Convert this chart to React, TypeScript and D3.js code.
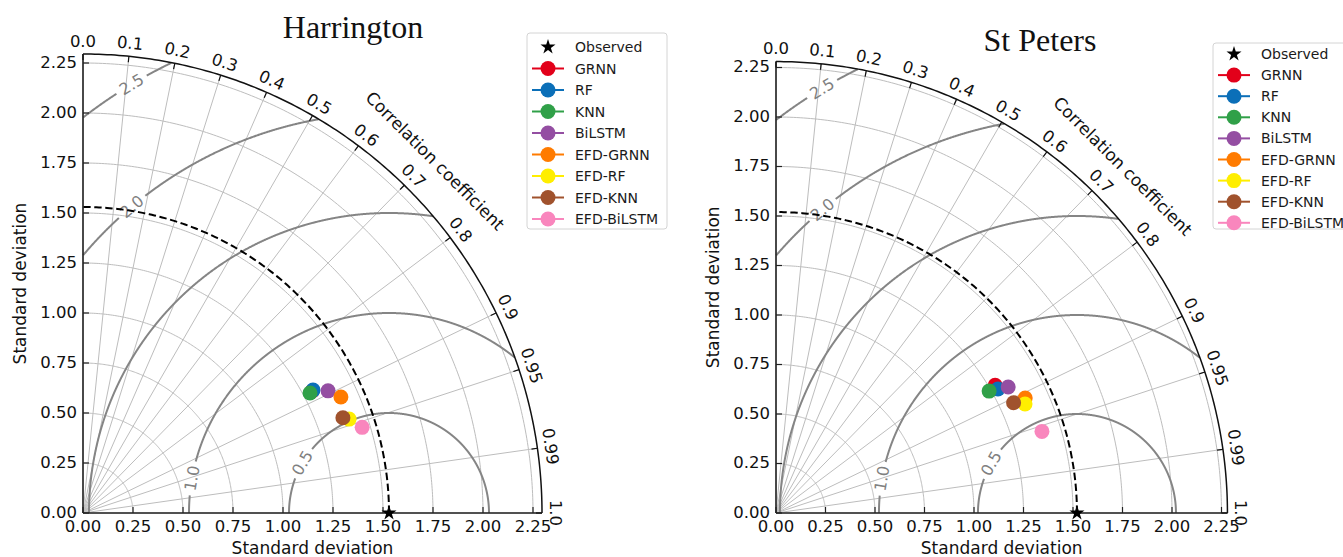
import React from 'react';
import * as d3 from 'd3';

// ---------- data ----------
const models = ['GRNN', 'RF', 'KNN', 'BiLSTM', 'EFD-GRNN', 'EFD-RF', 'EFD-KNN', 'EFD-BiLSTM'];
const modelColors = ['#e2001a', '#0b6fb8', '#30a048', '#944ea2', '#ff7b00', '#ffee00', '#a0522d', '#f986bd'];

const harringtonRefStd = 1.53;
const harringtonStd = [1.297, 1.304, 1.284, 1.369, 1.414, 1.411, 1.384, 1.460];
const harringtonCorr = [0.883, 0.882, 0.884, 0.895, 0.912, 0.943, 0.939, 0.956];

const stPetersRefStd = 1.52;
const stPetersStd = [1.281, 1.284, 1.240, 1.334, 1.386, 1.373, 1.323, 1.405];
const stPetersCorr = [0.864, 0.873, 0.868, 0.879, 0.908, 0.916, 0.907, 0.956];

const stdTicks = [0, 0.25, 0.5, 0.75, 1.0, 1.25, 1.5, 1.75, 2.0, 2.25];
const stdTickLabels = ['0.00', '0.25', '0.50', '0.75', '1.00', '1.25', '1.50', '1.75', '2.00', '2.25'];
const corrTicks = [0, 0.1, 0.2, 0.3, 0.4, 0.5, 0.6, 0.7, 0.8, 0.9, 0.95, 0.99, 1.0];
const corrTickLabels = ['0.0', '0.1', '0.2', '0.3', '0.4', '0.5', '0.6', '0.7', '0.8', '0.9', '0.95', '0.99', '1.0'];
const rmsLevels = [0.5, 1.0, 1.5, 2.0, 2.5];
const rmsLabels = ['0.5', '1.0', '1.5', '2.0', '2.5'];

// ---------- layout ----------
const rmsLabelAngles = [150, 170, null, 130, 121]; // degrees around the reference point
const FONT = 'DejaVu Sans, Verdana, sans-serif';
const deg = Math.PI / 180;

type PanelCfg = {
  title: string; refStd: number; std: number[]; corr: number[];
  ox: number; oy: number; scale: number; titleX: number; titleY: number;
  legX: number; legTop: number; legH: number; legW: number; legRow0: number; legDy: number;
};

const panels: PanelCfg[] = [
  { title: 'Harrington', refStd: harringtonRefStd, std: harringtonStd, corr: harringtonCorr,
    ox: 83, oy: 513, scale: 200, titleX: 353, titleY: 38,
    legX: 527, legTop: 33, legH: 196, legW: 140, legRow0: 47, legDy: 21.5 },
  { title: 'St Peters', refStd: stPetersRefStd, std: stPetersStd, corr: stPetersCorr,
    ox: 776, oy: 513, scale: 198, titleX: 1040, titleY: 51,
    legX: 1213, legTop: 43, legH: 186, legW: 140, legRow0: 54, legDy: 21.1 },
];

function Panel({ cfg }: { cfg: PanelCfg }) {
  const rmax = 1.5 * cfg.refStd;
  const r = d3.scaleLinear().domain([0, rmax]).range([0, rmax * cfg.scale]);
  const R = r(rmax);
  const P = (x: number, y: number): [number, number] => [cfg.ox + r(x), cfg.oy - r(y)];
  const polar = (s: number, th: number) => P(s * Math.cos(th), s * Math.sin(th));
  const line = d3.line();
  const arc = (s: number) => line(d3.range(0, 90.5, 0.5).map(a => polar(s, a * deg))) as string;
  const pxPolar = (rad: number, th: number): [number, number] => [cfg.ox + rad * Math.cos(th), cfg.oy - rad * Math.sin(th)];

  // RMS contours
  const contours = rmsLevels.map((L, li) => {
    const la = rmsLabelAngles[li];
    const halfGap = la != null ? 17 / r(L) : 0;
    const segs: [number, number][][] = [];
    let cur: [number, number][] = [];
    const N = 2000;
    for (let i = 0; i <= N; i++) {
      const phi = Math.PI * i / N;
      const x = cfg.refStd + L * Math.cos(phi);
      const y = L * Math.sin(phi);
      const inGap = la != null && Math.abs(phi - la * deg) < halfGap;
      const inside = x >= 0 && y >= 0 && Math.hypot(x, y) <= rmax && !inGap;
      if (inside) cur.push(P(x, y));
      else { if (cur.length > 1) segs.push(cur); cur = []; }
    }
    if (cur.length > 1) segs.push(cur);
    let label = null as null | { x: number; y: number; rot: number };
    if (la != null) {
      const phi = la * deg;
      const [lx, ly] = P(cfg.refStd + L * Math.cos(phi), L * Math.sin(phi));
      const dx = Math.sin(phi), dy = -Math.cos(phi);
      label = { x: lx, y: ly, rot: -Math.atan2(dy, dx) / deg };
    }
    return { segs, label, text: rmsLabels[li] };
  });

  const star = d3.symbol(d3.symbolStar, 70)() as string;
  const [sx, sy] = P(cfg.refStd, 0);

  return (
    <g fontFamily={FONT}>
      {/* grid */}
      {stdTicks.filter(s => s > 0).map((s, i) => (
        <path key={'ga' + i} d={arc(s)} fill="none" stroke="#bdbdbd" strokeWidth={1} />
      ))}
      {corrTicks.map((c, i) => {
        const th = Math.acos(c);
        const [x1, y1] = P(0, 0);
        const [x2, y2] = polar(rmax, th);
        return <line key={'gr' + i} x1={x1} y1={y1} x2={x2} y2={y2} stroke="#bdbdbd" strokeWidth={1} />;
      })}
      {/* contours */}
      {contours.map((c, i) => (
        <g key={'c' + i}>
          {c.segs.map((s, j) => (
            <path key={j} d={line(s) as string} fill="none" stroke="#858585" strokeWidth={2} />
          ))}
          {c.label && (
            <text transform={`translate(${c.label.x},${c.label.y}) rotate(${c.label.rot})`}
              textAnchor="middle" dominantBaseline="central" fontSize={16} fill="#808080">{c.text}</text>
          )}
        </g>
      ))}
      {/* reference std arc */}
      <path d={arc(cfg.refStd)} fill="none" stroke="#000" strokeWidth={2} strokeDasharray="7.4,3.6" />
      {/* outer arc and axes */}
      <path d={arc(rmax)} fill="none" stroke="#111" strokeWidth={1.5} />
      <line x1={cfg.ox} y1={cfg.oy} x2={cfg.ox} y2={cfg.oy - R} stroke="#222" strokeWidth={1.6} />
      <line x1={cfg.ox} y1={cfg.oy} x2={cfg.ox + R} y2={cfg.oy} stroke="#222" strokeWidth={1.6} />
      {/* std ticks */}
      {stdTicks.map((s, i) => {
        const v = r(s);
        return (
          <g key={'st' + i}>
            <line x1={cfg.ox} y1={cfg.oy - v} x2={cfg.ox + 6} y2={cfg.oy - v} stroke="#222" strokeWidth={1.2} />
            <text x={cfg.ox - 6} y={cfg.oy - v - 1} textAnchor="end" dominantBaseline="central" fontSize={16.5} fill="#111">{stdTickLabels[i]}</text>
            <line x1={cfg.ox + v} y1={cfg.oy} x2={cfg.ox + v} y2={cfg.oy - 6} stroke="#222" strokeWidth={1.2} />
            <text x={cfg.ox + v} y={cfg.oy + 19} textAnchor="middle" fontSize={16.5} fill="#111">{stdTickLabels[i]}</text>
          </g>
        );
      })}
      {/* corr ticks */}
      {corrTicks.map((c, i) => {
        const th = Math.acos(c);
        const [x1, y1] = pxPolar(R, th);
        const [x2, y2] = pxPolar(R - 6, th);
        const [lx, ly] = pxPolar(R + 13, th);
        return (
          <g key={'ct' + i}>
            <line x1={x1} y1={y1} x2={x2} y2={y2} stroke="#111" strokeWidth={1.2} />
            <text transform={`translate(${lx},${ly}) rotate(${90 - th / deg})`} textAnchor="middle"
              dominantBaseline="central" fontSize={16.5} fill="#111">{corrTickLabels[i]}</text>
          </g>
        );
      })}
      {(() => {
        const [lx, ly] = pxPolar(R + 39, 45 * deg);
        return <text transform={`translate(${lx},${ly}) rotate(45)`} textAnchor="middle" dominantBaseline="central"
          fontSize={17} fill="#111">Correlation coefficient</text>;
      })()}
      {/* axis labels */}
      <text transform={`translate(${cfg.ox - 57},${cfg.oy - R / 2}) rotate(-90)`} textAnchor="middle" fontSize={17} fill="#111">Standard deviation</text>
      <text x={cfg.ox + R / 2} y={cfg.oy + 41} textAnchor="middle" fontSize={17} fill="#111">Standard deviation</text>
      {/* points */}
      {cfg.std.map((s, i) => {
        const [x, y] = polar(s, Math.acos(cfg.corr[i]));
        return <circle key={'p' + i} cx={x} cy={y} r={7.5} fill={modelColors[i]} />;
      })}
      <path d={star} transform={`translate(${sx},${sy})`} fill="#000" />
      {/* title */}
      <text x={cfg.titleX} y={cfg.titleY} textAnchor="middle" fontFamily="Liberation Serif, Times New Roman, serif" fontSize={32} fill="#111">{cfg.title}</text>
      {/* legend */}
      <g>
        <rect x={cfg.legX} y={cfg.legTop} width={cfg.legW} height={cfg.legH} rx={3} fill="#fff" stroke="#d4d4d4" strokeWidth={1} />
        <path d={star} transform={`translate(${cfg.legX + 21},${cfg.legRow0})`} fill="#000" />
        <text x={cfg.legX + 48} y={cfg.legRow0} dominantBaseline="central" fontSize={14} fill="#1a1a1a">Observed</text>
        {models.map((m, i) => {
          const y = cfg.legRow0 + (i + 1) * cfg.legDy;
          const cx = cfg.legX + 21;
          return (
            <g key={'l' + i}>
              <line x1={cx - 16} y1={y} x2={cx + 16} y2={y} stroke={modelColors[i]} strokeWidth={2} />
              <circle cx={cx} cy={y} r={7.5} fill={modelColors[i]} />
              <text x={cfg.legX + 48} y={y} dominantBaseline="central" fontSize={14} fill="#1a1a1a">{m}</text>
            </g>
          );
        })}
      </g>
    </g>
  );
}

export default function App() {
  return (
    <svg width={1343} height={557} style={{ position: 'absolute', left: 0, top: 0, background: '#fff' }}>
      <rect width={1343} height={557} fill="#fff" />
      {panels.map((p, i) => <Panel key={i} cfg={p} />)}
    </svg>
  );
}
